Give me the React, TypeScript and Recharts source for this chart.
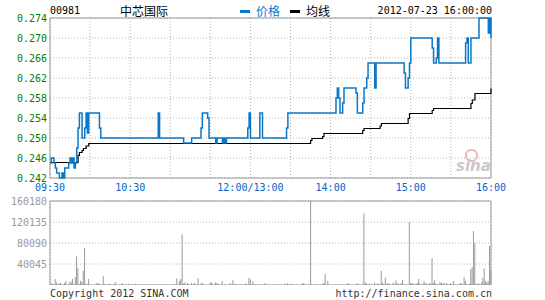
import React from 'react'
import { Bar, CartesianGrid, ComposedChart, Line, ReferenceArea, ReferenceLine, XAxis, YAxis } from 'recharts'

// minute index from 09:30 (0) to 16:00 (330), lunch break removed
const gridMinutes = [0, 30, 60, 90, 120, 150, 180, 210, 240, 270, 300, 330];
const timeTicks = [0, 60, 150, 210, 270, 330];
const timeLabels = ['09:30', '10:30', '12:00/13:00', '14:00', '15:00', '16:00'];

const priceTicks = [0.242, 0.246, 0.25, 0.254, 0.258, 0.262, 0.266, 0.27, 0.274];
const pctLabels = ['+1.26%', '+2.93%', '+4.60%', '+6.28%', '+7.95%', '+9.62%', '+11.30%', '+12.97%', '+14.64%'];
const volTicks = [40045, 80090, 120135, 160180];

// price changes: minute -> price
const priceMin = [0, 1, 3, 4, 5, 7, 9, 10, 11, 14, 15, 16, 17, 18, 19, 20, 21, 22, 24, 26, 27, 28, 29, 37, 38, 81, 82,
    100, 106, 113, 114, 118, 119, 124, 125, 129, 130, 131, 132, 148, 149, 150, 157, 159, 177, 178,
    214, 215, 216, 217, 219, 220, 229, 230, 234, 235, 237, 238, 243, 244, 265, 266, 268, 269, 270,
    286, 287, 289, 290, 291, 311, 312, 313, 315, 321, 328, 329, 330];
const priceVal = [0.245, 0.246, 0.245, 0.244, 0.243, 0.242, 0.243, 0.242, 0.244, 0.245, 0.246, 0.245, 0.246, 0.244, 0.245, 0.248, 0.252, 0.255, 0.25, 0.252, 0.255, 0.251, 0.255, 0.252, 0.25, 0.255, 0.25,
    0.249, 0.25, 0.252, 0.255, 0.254, 0.25, 0.249, 0.25, 0.249, 0.25, 0.249, 0.25, 0.252, 0.255, 0.25, 0.255, 0.25, 0.252, 0.255,
    0.258, 0.26, 0.258, 0.255, 0.257, 0.26, 0.259, 0.255, 0.257, 0.26, 0.262, 0.265, 0.26, 0.265, 0.263, 0.26, 0.262, 0.265, 0.27,
    0.268, 0.265, 0.266, 0.27, 0.265, 0.269, 0.27, 0.265, 0.27, 0.274, 0.271, 0.274, 0.27];

// average price line changes
const avgMin = [0, 21, 22, 24, 25, 27, 29, 195, 196, 204, 205, 234, 235, 247, 248, 268, 269, 286, 287, 315, 316, 318, 330];
const avgVal = [0.2451, 0.2465, 0.2471, 0.2475, 0.2479, 0.2484, 0.2489, 0.2495, 0.2499, 0.2503, 0.2509, 0.2515, 0.2519, 0.2524, 0.2529, 0.2539, 0.2549, 0.2555, 0.2559, 0.2569, 0.2576, 0.2589, 0.2599];

// volume per minute (only minutes with visible bars)
const volMin = [1, 2, 4, 5, 7, 8, 11, 12, 15, 16, 17, 19, 20, 21, 22, 23, 24, 25, 26, 27, 28, 29, 35, 36, 37, 40, 41, 44, 45, 48, 49,
    54, 56, 59, 61, 64, 69, 74, 76, 79, 81, 84, 88, 93, 94, 95, 97, 98, 99, 100, 101, 103, 104, 106, 108, 109, 111, 113, 114,
    120, 121, 122, 124, 125, 126, 129, 131, 135, 137, 139, 140, 143, 146, 147, 149, 150, 152, 154, 156, 158, 161,
    176, 178, 181, 188, 189, 190, 196, 199, 201, 204, 205, 206, 208, 215, 217, 220, 222, 223, 225, 230,
    235, 236, 237, 239, 241, 243, 245, 246, 248, 249, 250, 251, 253, 254, 256, 257, 259, 260, 261, 263, 264, 266,
    269, 270, 271, 272, 274, 275, 276, 277, 279, 280, 281, 282, 284, 285, 286, 287, 288, 289, 291, 292, 293, 294, 295, 297, 299,
    300, 302, 303, 305, 307, 308, 310, 311, 312, 314, 315, 316, 317, 318, 319, 320, 321, 323, 324, 325, 326, 327, 328, 329, 330];
const volVal = [3200, 1500, 11400, 5000, 3000, 4000, 4000, 7600, 6300, 6300, 11400, 15000, 55000, 32000, 2000, 7600, 5700, 27000, 70600, 2500, 1300, 11400, 3000, 4000, 3000, 17000, 2000, 2000, 2000, 2000, 5700,
    4000, 1000, 2500, 1000, 2500, 1000, 1000, 1000, 1000, 1000, 1000, 1000, 1000, 1000, 12700, 7600, 11400, 97000, 2500, 5000, 4000, 1000, 4000, 4000, 2500, 12700, 2500, 5000,
    5000, 5000, 2500, 5000, 4000, 2500, 7600, 1300, 4000, 9000, 2500, 1000, 1000, 2500, 3000, 13300, 10800, 7600, 1300, 1300, 1300, 4000,
    2500, 4000, 2500, 1000, 3000, 4000, 1300, 1300, 1000, 2500, 4400, 21000, 7600, 1000, 1000, 1000, 1000, 4000, 1000, 4000,
    137000, 5000, 3000, 2500, 1000, 5000, 3000, 2500, 27000, 4400, 2500, 14000, 4000, 2500, 1000, 5000, 9000, 3000, 2500, 4400, 9500, 1000,
    120000, 4000, 4000, 3000, 2500, 4400, 11400, 3000, 2500, 7600, 3000, 3000, 4000, 2500, 51000, 4000, 9500, 2500, 1300, 5700, 4000, 2500, 4400, 4000, 1000,
    4000, 7600, 1000, 1000, 3000, 4000, 15000, 7600, 1000, 2500, 30500, 34000, 103000, 79500, 2500, 2500, 3000, 5000, 13300, 32000, 7600, 5000, 7000, 74000, 27000];

const priceData = priceMin.map((m, i) => ({ m, v: priceVal[i] }));
const avgData = avgMin.map((m, i) => ({ m, v: avgVal[i] }));
const volData = volMin.map((m, i) => ({ m, v: volVal[i] }));

const MONO = '"DejaVu Sans Mono", "Liberation Mono", monospace';
const CJK = '"Noto Sans CJK SC", sans-serif';
const GREEN = '#008000';
const BLUE = '#0a78c8';

const timeFmt = (v: number) => {
    const i = timeTicks.indexOf(v);
    return i >= 0 ? timeLabels[i] : '';
};

const App: React.FC = () => {
    return (
        <div style={{ position: 'absolute', left: 0, top: 0, width: 545, height: 300, background: '#fff', overflow: 'hidden' }}>
            {/* header */}
            <div style={{ position: 'absolute', left: 50, top: 5, fontFamily: MONO, fontSize: 10, lineHeight: '12px', color: '#000' }}>00981</div>
            <div style={{ position: 'absolute', left: 120, top: 4, fontFamily: CJK, fontSize: 12, lineHeight: '14px', color: '#000' }}>中芯国际</div>
            <div style={{ position: 'absolute', left: 240, top: 10, width: 10, height: 3, background: BLUE }} />
            <div style={{ position: 'absolute', left: 256, top: 4, fontFamily: CJK, fontSize: 12, lineHeight: '14px', color: BLUE }}>价格</div>
            <div style={{ position: 'absolute', left: 290, top: 10, width: 10, height: 3, background: '#000' }} />
            <div style={{ position: 'absolute', left: 306, top: 4, fontFamily: CJK, fontSize: 12, lineHeight: '14px', color: '#000' }}>均线</div>
            <div style={{ position: 'absolute', right: 545 - 492, top: 5, fontFamily: MONO, fontSize: 10, lineHeight: '12px', color: '#000' }}>2012-07-23 16:00:00</div>

            {/* price chart */}
            <div style={{ position: 'absolute', left: 0, top: 0 }}>
                <ComposedChart width={545} height={196} margin={{ top: 18, right: 0, bottom: 0, left: 0 }}>
                    <CartesianGrid yAxisId="p" stroke="#b4b4b4" strokeDasharray="1 2" />
                    <XAxis
                        type="number"
                        dataKey="m"
                        domain={[0, 330]}
                        ticks={gridMinutes}
                        interval={0}
                        tickFormatter={timeFmt}
                        height={18}
                        tickSize={0}
                        tickMargin={6}
                        axisLine={false}
                        tick={{ fill: '#0066cc', fontSize: 10, fontFamily: MONO }}
                    />
                    <YAxis
                        yAxisId="p"
                        domain={[0.242, 0.274]}
                        ticks={priceTicks}
                        interval={0}
                        width={50}
                        tickSize={0}
                        tickMargin={3}
                        axisLine={false}
                        tickFormatter={(v: number) => v.toFixed(3)}
                        tick={{ fill: GREEN, fontSize: 10, fontFamily: MONO }}
                    />
                    <YAxis
                        yAxisId="r"
                        orientation="right"
                        domain={[0.242, 0.274]}
                        ticks={priceTicks}
                        interval={0}
                        width={54}
                        tickSize={0}
                        tickMargin={4}
                        axisLine={false}
                        tickFormatter={(_v: number, i: number) => pctLabels[i]}
                        tick={{ fill: GREEN, fontSize: 10, fontFamily: MONO, textAnchor: 'start' }}
                    />
                    <ReferenceArea yAxisId="p" x1={0} x2={330} y1={0.242} y2={0.274} fill="none" stroke="#999" strokeWidth={1} />
                    <Line yAxisId="p" data={avgData} dataKey="v" type="stepAfter" stroke="#000" strokeWidth={1.2} dot={false} isAnimationActive={false} />
                    <Line yAxisId="p" data={priceData} dataKey="v" type="stepAfter" stroke={BLUE} strokeWidth={1.5} dot={false} isAnimationActive={false} />
                </ComposedChart>
            </div>

            {/* sina watermark */}
            <div style={{ position: 'absolute', left: 465, top: 149, width: 9, height: 9, borderRadius: 6, border: '2px solid #f2b8b8' }} />
            <div style={{ position: 'absolute', left: 456, top: 158, fontFamily: 'Verdana, "DejaVu Sans", sans-serif', fontSize: 15, fontWeight: 'bold', fontStyle: 'italic', lineHeight: '17px', color: '#c9c9c9' }}>sina</div>

            {/* volume chart */}
            <div style={{ position: 'absolute', left: 0, top: 194 }}>
                <ComposedChart width={545} height={91} data={volData} margin={{ top: 7, right: 54, bottom: 0, left: 0 }}>
                    <CartesianGrid stroke="#b4b4b4" strokeDasharray="1 2" />
                    <XAxis type="number" dataKey="m" domain={[0, 330]} ticks={gridMinutes} interval={0} height={0} tick={false} tickLine={false} axisLine={false} />
                    <YAxis
                        domain={[0, 160180]}
                        ticks={volTicks}
                        interval={0}
                        width={50}
                        tickSize={0}
                        tickMargin={3}
                        axisLine={false}
                        tick={{ fill: '#999', fontSize: 10, fontFamily: MONO }}
                    />
                    <ReferenceArea x1={0} x2={330} y1={0} y2={160180} fill="none" stroke="#999" strokeWidth={1} />
                    <ReferenceLine x={195} stroke="#999" strokeWidth={1} />
                    <Bar dataKey="v" fill="#9a9a9a" barSize={1} isAnimationActive={false} />
                </ComposedChart>
            </div>

            {/* footer */}
            <div style={{ position: 'absolute', left: 50, top: 288, fontFamily: MONO, fontSize: 10, lineHeight: '12px', color: '#333' }}>Copyright 2012 SINA.COM</div>
            <div style={{ position: 'absolute', right: 545 - 492, top: 288, fontFamily: MONO, fontSize: 10, lineHeight: '12px', color: '#333' }}>http://finance.sina.com.cn</div>
        </div>
    )
}

export default App
